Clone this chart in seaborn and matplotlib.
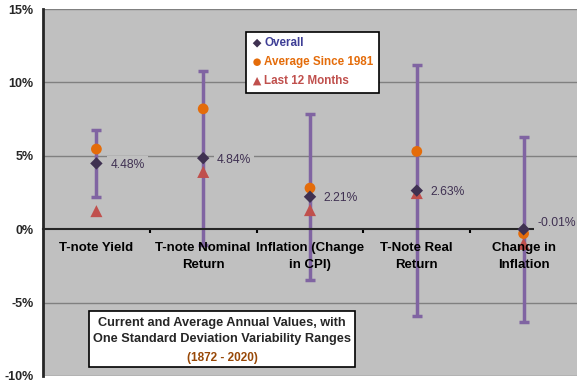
import pandas as pd
import seaborn as sns
import matplotlib.pyplot as plt

# Data (percent)
categories = ["T-note Yield", "T-note Nominal\nReturn", "Inflation (Change\nin CPI)",
              "T-Note Real\nReturn", "Change in\nInflation"]
overall = [4.48, 4.84, 2.21, 2.63, -0.01]
std_dev = [2.27, 5.95, 5.64, 8.57, 6.29]
avg_since_1981 = [5.46, 8.20, 2.80, 5.30, -0.30]
last_12_months = [1.23, 3.90, 1.30, 2.46, -1.00]
y_ticks = [-10, -5, 0, 5, 10, 15]

df = pd.DataFrame({"category": categories, "overall": overall, "sd": std_dev,
                   "avg": avg_since_1981, "last12": last_12_months})
df["pos"] = range(len(df))

sns.set_style("white")
plt.rcParams["font.family"] = ["Liberation Sans", "DejaVu Sans"]

fig = plt.figure(figsize=(5.77, 3.84), dpi=100)
ax = fig.add_axes([43/577, 8/384, 534/577, 367/384])
ax.set_facecolor("#C0C0C0")

# Gridlines
for t in y_ticks:
    if t != 0:
        ax.axhline(t, color="#808080", lw=1, zorder=0)

# Standard deviation ranges
ax.errorbar(df["pos"], df["overall"], yerr=df["sd"], fmt="none", ecolor="#8064A2",
            elinewidth=2.5, capsize=3.5, capthick=2.5, zorder=2)

sns.scatterplot(data=df, x="pos", y="last12", marker="^", s=75, color="#C0504D",
                edgecolor="none", label="Last 12 Months", ax=ax, zorder=3)
sns.scatterplot(data=df, x="pos", y="avg", marker="o", s=60, color="#E46C0A",
                edgecolor="none", label="Average Since 1981", ax=ax, zorder=4)
sns.scatterplot(data=df, x="pos", y="overall", marker="D", s=40, color="#3F3151",
                edgecolor="none", label="Overall", ax=ax, zorder=5)

# Data labels for the overall values
for i, v in enumerate(overall):
    dy = 0.45 if v < 0.5 else -0.1
    ax.annotate(f"{v:.2f}%", (i, v + dy), xytext=(10, 0), textcoords="offset points",
                ha="left", va="center", fontsize=8.7, color="#403152", zorder=6,
                bbox=dict(boxstyle="square,pad=0.25", fc="#C0C0C0", ec="none"))

ax.set_xlim(-0.5, len(categories) - 0.5)
ax.set_ylim(-10, 15)
ax.set_yticks(y_ticks)
ax.set_yticklabels([f"{t}%" for t in y_ticks], fontsize=9, fontweight="bold")
ax.tick_params(axis="y", length=4, width=1.5, color="black", pad=3)

# x axis at zero with ticks between categories
ax.spines["bottom"].set_position(("data", 0))
ax.spines["bottom"].set_linewidth(1.5)
ax.spines["left"].set_linewidth(2)
ax.spines["top"].set_visible(False)
ax.spines["right"].set_visible(False)
ax.set_xticks([i + 0.5 for i in range(len(categories) - 1)])
ax.set_xticklabels([])
ax.tick_params(axis="x", length=3, width=1.5, direction="out", color="black", bottom=True)
for i, c in enumerate(categories):
    ax.text(i, -0.9, c, ha="center", va="top", fontsize=9.5, fontweight="bold",
            linespacing=1.55, color="black")
ax.set_xlabel("")
ax.set_ylabel("")

# Legend
handles, labels = ax.get_legend_handles_labels()
order = [2, 1, 0]
leg = ax.legend([handles[i] for i in order], [labels[i] for i in order],
                loc="upper left", bbox_to_anchor=(246/577, 1 - 32/384),
                bbox_transform=fig.transFigure, frameon=True, fancybox=False,
                edgecolor="black", framealpha=1, fontsize=8.4, handletextpad=0.1,
                handlelength=1.0, borderpad=0.45, labelspacing=0.6, markerscale=0.7,
                borderaxespad=0)
leg.get_frame().set_linewidth(1.2)
for txt, col in zip(leg.get_texts(), ["#3F3F96", "#E46C0A", "#C0504D"]):
    txt.set_color(col)
    txt.set_fontweight("bold")

# Caption box
fig.patches.append(plt.Rectangle((89/577, 1 - 367/384), 266/577, 56/384,
                                 transform=fig.transFigure, fc="white", ec="black",
                                 lw=1.2, zorder=10))
fig.text(222/577, 1 - 331/384, "Current and Average Annual Values, with\nOne Standard Deviation Variability Ranges",
         ha="center", va="center", fontsize=9.2, fontweight="bold", linespacing=1.5, zorder=11)
fig.text(222/577, 1 - 358/384, "(1872 - 2020)", ha="center", va="center",
         fontsize=8.5, fontweight="bold", color="#984807", zorder=11)

plt.savefig("out.png", dpi=100)
plt.close()
